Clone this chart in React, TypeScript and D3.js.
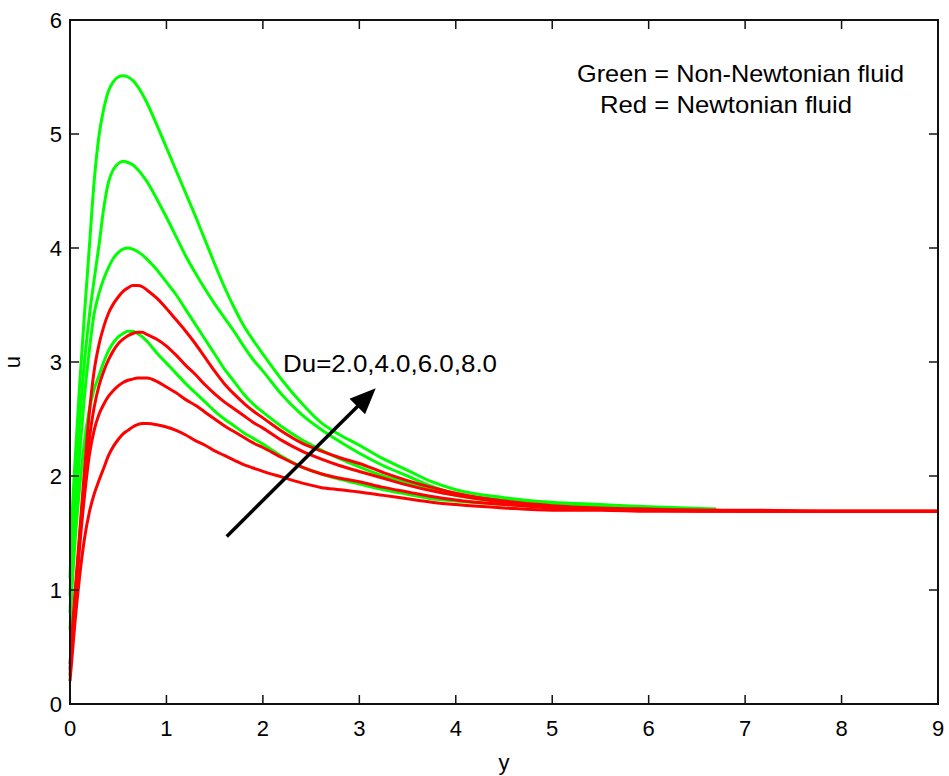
import React from 'react';
import * as d3 from 'd3';

const W = 949;
const H = 776;

// shared abscissa grid (y in the chart)
const X = [0, 0.02, 0.05, 0.1, 0.15, 0.2, 0.25, 0.3, 0.35, 0.4, 0.45, 0.5, 0.55, 0.6, 0.65, 0.7, 0.75, 0.8, 0.9, 1.0,
  1.1, 1.2, 1.3, 1.4, 1.5, 1.6, 1.7, 1.8, 1.9, 2.0, 2.2, 2.4, 2.6, 2.8, 3.0, 3.25, 3.5, 3.75, 4.0, 4.5,
  5.0, 5.5, 6.0, 6.7, 7.0, 8.0, 9.0];

// Green = Non-Newtonian fluid
const G1 = [1.1, 1.6, 2.1, 2.8, 3.42, 4.0, 4.58, 4.98, 5.22, 5.38, 5.46, 5.5, 5.51, 5.5, 5.47, 5.42, 5.35, 5.27, 5.08, 4.88,
  4.68, 4.48, 4.28, 4.07, 3.86, 3.66, 3.48, 3.32, 3.19, 3.07, 2.84, 2.64, 2.47, 2.36, 2.27, 2.15, 2.05, 1.95, 1.88, 1.81,
  1.77, 1.75, 1.73, 1.71];
const G2 = [0.95, 1.4, 1.85, 2.5, 3.0, 3.4, 3.72, 4.02, 4.35, 4.58, 4.69, 4.74, 4.76, 4.75, 4.73, 4.69, 4.64, 4.58, 4.43, 4.27,
  4.1, 3.93, 3.78, 3.64, 3.51, 3.39, 3.27, 3.14, 3.02, 2.92, 2.71, 2.54, 2.41, 2.3, 2.2, 2.09, 2.0, 1.91, 1.84, 1.79,
  1.75, 1.73, 1.72, 1.70];
const G3 = [0.8, 1.2, 1.6, 2.2, 2.7, 3.1, 3.42, 3.6, 3.73, 3.83, 3.91, 3.96, 3.99, 4.0, 3.99, 3.97, 3.94, 3.9, 3.81, 3.7,
  3.59, 3.46, 3.33, 3.2, 3.07, 2.94, 2.83, 2.72, 2.63, 2.56, 2.43, 2.32, 2.23, 2.15, 2.08, 2.0, 1.94, 1.88, 1.83, 1.77,
  1.74, 1.72, 1.71, 1.70];
const G4 = [0.65, 1.0, 1.4, 1.9, 2.3, 2.58, 2.76, 2.88, 3.0, 3.1, 3.17, 3.22, 3.25, 3.27, 3.27, 3.25, 3.22, 3.18, 3.08, 2.99,
  2.9, 2.81, 2.73, 2.65, 2.57, 2.5, 2.44, 2.38, 2.33, 2.28, 2.17, 2.08, 2.02, 1.97, 1.93, 1.88, 1.84, 1.8, 1.78, 1.75,
  1.73, 1.72, 1.71, 1.70];

// Red = Newtonian fluid
const R1 = [0.35, 0.6, 0.95, 1.5, 2.05, 2.55, 2.92, 3.15, 3.31, 3.43, 3.51, 3.57, 3.62, 3.65, 3.67, 3.67, 3.66, 3.63, 3.56, 3.47,
  3.37, 3.27, 3.16, 3.04, 2.92, 2.81, 2.72, 2.64, 2.57, 2.51, 2.39, 2.29, 2.22, 2.16, 2.11, 2.03, 1.96, 1.9, 1.85, 1.78,
  1.74, 1.72, 1.71, 1.70, 1.70, 1.69, 1.69];
const R2 = [0.3, 0.55, 0.9, 1.45, 1.95, 2.32, 2.6, 2.79, 2.92, 3.02, 3.1, 3.16, 3.2, 3.23, 3.25, 3.26, 3.26, 3.24, 3.2, 3.14,
  3.06, 2.97, 2.89, 2.8, 2.72, 2.65, 2.59, 2.53, 2.47, 2.42, 2.31, 2.22, 2.15, 2.09, 2.04, 1.98, 1.92, 1.87, 1.83, 1.77,
  1.73, 1.71, 1.70, 1.70, 1.69, 1.69, 1.69];
const R3 = [0.25, 0.5, 0.85, 1.38, 1.82, 2.18, 2.4, 2.54, 2.63, 2.7, 2.75, 2.79, 2.82, 2.84, 2.85, 2.86, 2.86, 2.86, 2.83, 2.78,
  2.73, 2.67, 2.62, 2.56, 2.5, 2.44, 2.39, 2.34, 2.29, 2.25, 2.16, 2.08, 2.02, 1.98, 1.95, 1.9, 1.86, 1.82, 1.79, 1.75,
  1.72, 1.71, 1.70, 1.69, 1.69, 1.69, 1.69];
const R4 = [0.2, 0.4, 0.7, 1.12, 1.45, 1.68, 1.84, 1.96, 2.07, 2.18, 2.26, 2.32, 2.37, 2.4, 2.43, 2.45, 2.46, 2.46, 2.45, 2.43,
  2.4, 2.36, 2.31, 2.27, 2.22, 2.18, 2.14, 2.1, 2.07, 2.04, 1.99, 1.94, 1.9, 1.88, 1.86, 1.83, 1.8, 1.77, 1.75, 1.72,
  1.70, 1.70, 1.69, 1.69, 1.69, 1.69, 1.69];

const GREEN_SERIES = [G1, G2, G3, G4];
const RED_SERIES = [R1, R2, R3, R4];

const X_TICKS = [0, 1, 2, 3, 4, 5, 6, 7, 8, 9];
const Y_TICKS = [0, 1, 2, 3, 4, 5, 6];

const LEGEND_LINES = ['Green = Non-Newtonian fluid', 'Red = Newtonian fluid'];
const ARROW_LABEL = 'Du=2.0,4.0,6.0,8.0';
const ARROW_FROM = [1.625, 1.47];
const ARROW_TO = [3.17, 2.77];

const FONT = '"Liberation Sans", Arial, Helvetica, sans-serif';

export default function App() {
  const x = d3.scaleLinear().domain([0, 9]).range([70, 938]);
  const y = d3.scaleLinear().domain([0, 6]).range([704, 20]);
  const [x0, x1] = x.range();
  const [y0, y1] = y.range();

  const mkLine = (vals: number[]) =>
    d3.line<number>()
      .x((_, i) => x(X[i]))
      .y((d) => y(d))
      .curve(d3.curveMonotoneX)(vals) || '';

  // arrow geometry
  const ax1 = x(ARROW_FROM[0]), ay1 = y(ARROW_FROM[1]);
  const ax2 = x(ARROW_TO[0]), ay2 = y(ARROW_TO[1]);
  const dx = ax2 - ax1, dy = ay2 - ay1;
  const len = Math.sqrt(dx * dx + dy * dy);
  const ux = dx / len, uy = dy / len;
  const headL = 26, headW = 11;
  const bx = ax2 - ux * headL, by = ay2 - uy * headL;
  const head = `${ax2},${ay2} ${bx - uy * headW},${by + ux * headW} ${bx + uy * headW},${by - ux * headW}`;

  const tickLen = 9;

  return (
    <svg width={W} height={H} style={{ position: 'absolute', left: 0, top: 0, background: '#fff' }}
      fontFamily={FONT}>
      <rect x={0} y={0} width={W} height={H} fill="#fff" />

      {/* curves */}
      {GREEN_SERIES.map((s, i) => (
        <path key={'g' + i} d={mkLine(s)} fill="none" stroke="#00ff00" strokeWidth={3} strokeLinejoin="round" />
      ))}
      {RED_SERIES.map((s, i) => (
        <path key={'r' + i} d={mkLine(s)} fill="none" stroke="#ff0000" strokeWidth={3} strokeLinejoin="round" />
      ))}

      {/* axes box */}
      <rect x={x0} y={y1} width={x1 - x0} height={y0 - y1} fill="none" stroke="#111" strokeWidth={2} />

      {/* x ticks */}
      {X_TICKS.map((t) => (
        <g key={'xt' + t}>
          <line x1={x(t)} x2={x(t)} y1={y0} y2={y0 - tickLen} stroke="#111" strokeWidth={1.5} />
          <line x1={x(t)} x2={x(t)} y1={y1} y2={y1 + tickLen} stroke="#111" strokeWidth={1.5} />
          <text x={x(t)} y={736} textAnchor="middle" fontSize={22} fill="#000">{t}</text>
        </g>
      ))}

      {/* y ticks */}
      {Y_TICKS.map((t) => (
        <g key={'yt' + t}>
          <line x1={x0} x2={x0 + tickLen} y1={y(t)} y2={y(t)} stroke="#111" strokeWidth={1.5} />
          <line x1={x1} x2={x1 - tickLen} y1={y(t)} y2={y(t)} stroke="#111" strokeWidth={1.5} />
          <text x={62} y={y(t) + 8} textAnchor="end" fontSize={22} fill="#000">{t}</text>
        </g>
      ))}

      {/* axis labels */}
      <text x={(x0 + x1) / 2} y={770} textAnchor="middle" fontSize={22} fill="#000">y</text>
      <text transform={`translate(20,${(y0 + y1) / 2}) rotate(-90)`} textAnchor="middle" fontSize={22} fill="#000">u</text>

      {/* legend text */}
      <text x={577} y={82} fontSize={24} textLength={327} lengthAdjust="spacingAndGlyphs" fill="#000">{LEGEND_LINES[0]}</text>
      <text x={600} y={113} fontSize={24} textLength={252} lengthAdjust="spacingAndGlyphs" fill="#000">{LEGEND_LINES[1]}</text>

      {/* arrow annotation */}
      <line x1={ax1} y1={ay1} x2={bx + ux * 2} y2={by + uy * 2} stroke="#000" strokeWidth={3.5} />
      <polygon points={head} fill="#000" />
      <text x={283} y={372} fontSize={24} textLength={214} lengthAdjust="spacingAndGlyphs" fill="#000">{ARROW_LABEL}</text>
    </svg>
  );
}
